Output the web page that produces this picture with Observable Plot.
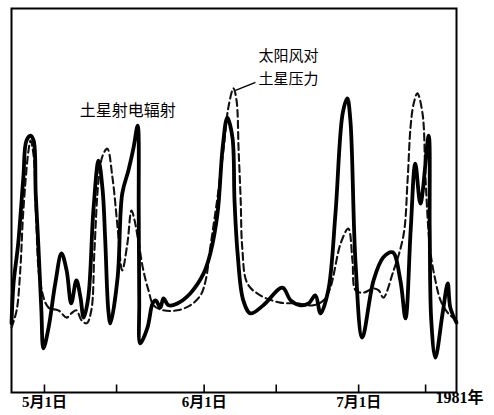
<!DOCTYPE html>
<html>
<head>
<meta charset="utf-8">
<script src="https://cdn.jsdelivr.net/npm/d3@7"></script>
<script src="https://cdn.jsdelivr.net/npm/@observablehq/plot@0.6"></script>
<style>
  html, body { margin: 0; padding: 0; background: #fff; }
  #chart svg { display: block; }
</style>
</head>
<body>
<div id="chart"></div>
<script>
// Day of year 1981 (May 1 = 121) and relative level (0..100)
const radioDay = [114.6,115.0,115.9,116.9,117.5,118.3,118.9,119.3,119.8,120.4,120.8,121.8,123.1,124.3,125.3,126.2,127.2,128.0,128.6,129.5,130.5,131.5,132.3,132.8,133.4,133.8,135.2,136.1,137.3,138.3,139.1,139.3,139.4,139.6,141.0,142.0,142.6,143.5,144.1,145.1,146.8,149.3,151.9,153.2,154.6,155.6,156.5,157.5,157.9,158.5,159.6,161.0,163.5,167.2,168.8,170.7,172.3,173.6,174.6,176.1,177.5,178.9,179.8,180.4,181.4,182.7,184.9,186.8,188.6,190.1,191.1,192.1,193.0,194.0,195.6,195.8,196.1,196.9,198.3,199.3,199.8,201.0];
const radioLevel = [18.0,28.4,38.8,56.0,65.6,66.9,65.6,51.8,38.8,21.4,11.5,16.9,28.4,36.2,31.8,23.2,29.2,24.7,19.5,24.7,47.4,60.4,52.6,39.6,21.4,18.0,29.9,51.8,57.8,63.8,69.5,47.4,24.0,12.8,16.9,23.2,24.0,22.1,24.5,22.7,23.2,25.8,31.0,36.2,46.6,63.8,71.6,66.4,50.0,36.2,24.0,20.6,22.7,27.3,24.0,22.7,23.2,25.3,20.6,26.6,46.6,72.7,76.6,70.8,33.6,14.3,29.2,35.2,36.5,29.2,19.3,42.2,59.6,49.2,66.9,42.2,18.8,9.1,20.6,28.4,22.1,18.2];

const windDay = [114.6,115.6,116.3,116.9,117.9,118.3,118.9,119.4,120.2,121.8,123.7,125.3,126.2,127.2,128.2,129.2,130.1,130.7,131.5,132.3,133.2,134.2,135.2,136.1,137.1,137.9,138.5,139.3,140.2,141.2,142.2,144.1,146.8,149.3,151.3,152.3,153.2,154.6,155.8,156.7,157.7,158.3,158.7,159.1,159.4,160.4,162.9,166.8,170.1,173.2,175.2,176.5,178.5,180.0,180.8,181.4,182.9,184.9,185.9,186.8,188.6,190.7,191.5,192.1,192.7,193.4,194.4,195.0,195.9,196.9,197.9,199.4,201.0];
const windLevel = [16.9,21.4,31.8,47.4,63.0,65.6,61.7,44.8,28.4,22.1,21.4,19.5,20.6,21.4,18.8,18.0,21.4,37.0,55.2,61.7,63.5,56.0,43.0,31.8,38.8,47.4,44.8,38.8,31.8,26.6,22.7,21.4,21.4,22.7,25.3,29.2,37.8,50.8,63.8,74.2,79.2,76.0,63.0,50.0,37.8,28.4,25.3,23.4,23.2,22.7,24.0,27.3,38.8,42.7,34.4,26.6,26.0,27.1,26.6,24.7,31.0,40.9,55.2,69.5,75.3,77.9,72.7,55.2,37.0,29.2,24.0,20.6,18.8];

const tickDays = [121, 135, 152, 166, 182, 195];
const labelDays = [121, 152, 182];
const labelTexts = ["5月1日", "6月1日", "7月1日"];
const yearLabel = "1981年";
const radioName = "土星射电辐射";
const windNameLines = ["太阳风对", "土星压力"];

const radio = radioDay.map((d, i) => ({day: d, level: radioLevel[i]}));
const wind = windDay.map((d, i) => ({day: d, level: windLevel[i]}));

const radioPeak = radio.filter(d => d.day > 136 && d.day < 140).reduce((a, b) => b.level > a.level ? b : a);
const windPeak = wind.reduce((a, b) => b.level > a.level ? b : a);

const tickSymbol = {draw(ctx) { ctx.moveTo(0, 0); ctx.lineTo(0, -8); }};
const leaderSymbol = {draw(ctx) { ctx.moveTo(2, 2); ctx.lineTo(22, -6); }};

const cjk = "'Noto Sans CJK SC', sans-serif";
const axisFont = "'Liberation Serif', 'Noto Sans CJK SC', serif";

const chart = Plot.plot({
  width: 494,
  height: 415,
  marginLeft: 11,
  marginRight: 38,
  marginTop: 8,
  marginBottom: 23,
  x: {domain: [114.6, 201], axis: null},
  y: {domain: [0, 100], axis: null},
  marks: [
    Plot.frame({stroke: "#000", strokeWidth: 2}),
    Plot.line(wind, {x: "day", y: "level", curve: "catmull-rom", stroke: "#111", strokeWidth: 2.1, strokeDasharray: "7,4"}),
    Plot.line(radio, {x: "day", y: "level", curve: "catmull-rom", stroke: "#000", strokeWidth: 3.8, strokeLinejoin: "round"}),
    Plot.dot(tickDays, {x: d => d, frameAnchor: "bottom", symbol: tickSymbol, r: 4, fill: "none", stroke: "#000", strokeWidth: 1.6}),
    Plot.axisX({ticks: labelDays, label: null, tickSize: 0, tickPadding: 4, tickFormat: d => labelTexts[labelDays.indexOf(d)], fontSize: 15, fontWeight: "bold", fontFamily: axisFont, letterSpacing: 1}),
    Plot.text([yearLabel], {frameAnchor: "bottom-right", textAnchor: "start", dx: -21, dy: 10, fontSize: 16, fontWeight: "bold", fontFamily: axisFont, fill: "#000", letterSpacing: 1}),
    Plot.text([radioPeak], {x: "day", y: "level", text: () => radioName, dx: -10, dy: -15, fontSize: 16, fontFamily: cjk, fill: "#000", letterSpacing: 2}),
    Plot.dot([windPeak], {x: "day", y: "level", symbol: leaderSymbol, r: 4, fill: "none", stroke: "#000", strokeWidth: 1.3}),
    Plot.text([windPeak], {x: "day", y: "level", text: () => windNameLines[0], dx: 25, dy: -32, textAnchor: "start", fontSize: 15, fontFamily: cjk, fill: "#000", letterSpacing: 3}),
    Plot.text([windPeak], {x: "day", y: "level", text: () => windNameLines[1], dx: 25, dy: -9, textAnchor: "start", fontSize: 15, fontFamily: cjk, fill: "#000", letterSpacing: 3})
  ]
});
document.getElementById("chart").appendChild(chart);
</script>
</body>
</html>
